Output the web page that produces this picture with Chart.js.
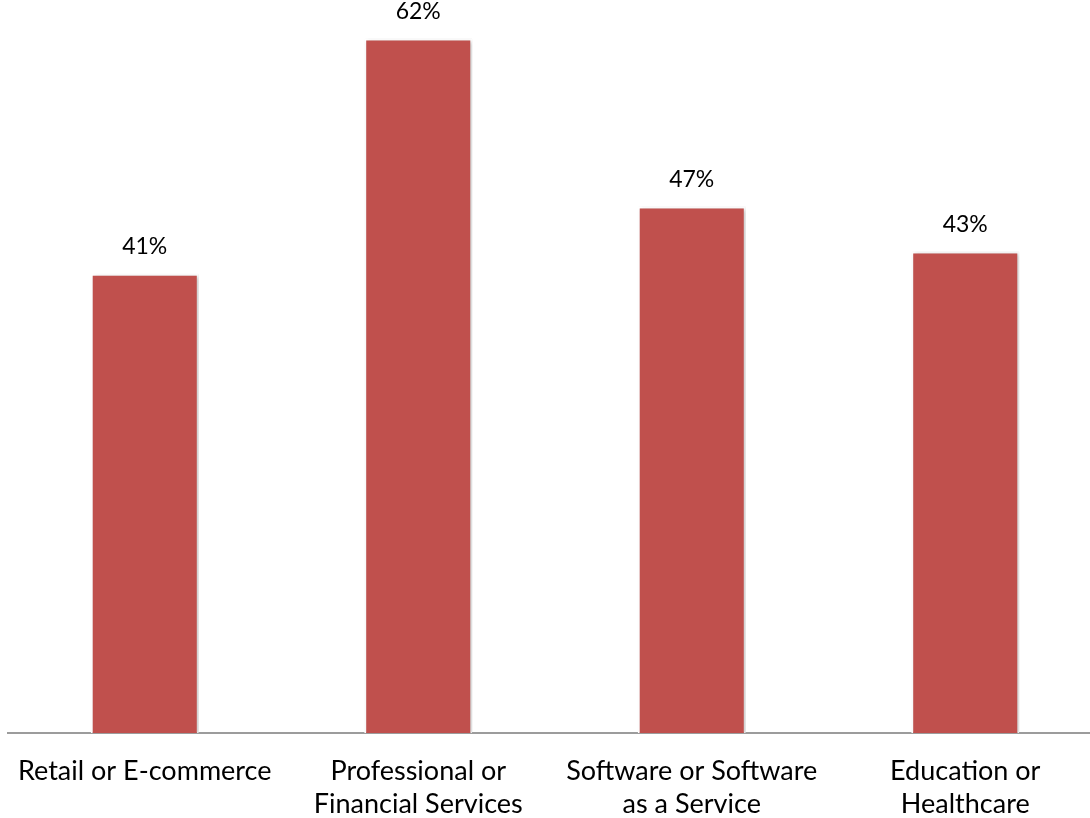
<!DOCTYPE html>
<html>
<head>
<meta charset="utf-8">
<script src="https://cdn.jsdelivr.net/npm/chart.js@4/dist/chart.umd.min.js"></script>
<style>
  html, body { margin: 0; padding: 0; background: #fff; overflow: hidden; }
  #wrap { width: 1102px; height: 818px; }
</style>
</head>
<body>
<div id="wrap"><canvas id="grafico" width="1102" height="818"></canvas></div>
<script>
const categorias = [
  ["Retail or E-commerce"],
  ["Professional or", "Financial Services"],
  ["Software or Software", "as a Service"],
  ["Education or", "Healthcare"]
];
const percentuais = [41, 62, 47, 43];

// sombra leve por baixo das barras
const sombraBarras = {
  id: "sombraBarras",
  beforeDatasetsDraw(chart) {
    const ctx = chart.ctx;
    ctx.save();
    ctx.shadowColor = "rgba(0,0,0,0.22)";
    ctx.shadowBlur = 4;
    ctx.shadowOffsetX = 2;
    ctx.shadowOffsetY = 1;
  },
  afterDatasetsDraw(chart) {
    chart.ctx.restore();
  }
};

// rótulos de valor acima de cada barra
const rotulosValor = {
  id: "rotulosValor",
  afterDraw(chart) {
    const ctx = chart.ctx;
    const meta = chart.getDatasetMeta(0);
    ctx.save();
    ctx.font = "23px Lato";
    ctx.fillStyle = "#000";
    ctx.textAlign = "center";
    ctx.textBaseline = "middle";
    meta.data.forEach((bar, i) => {
      ctx.fillText(percentuais[i] + "%", bar.x, bar.y - 27);
    });
    ctx.restore();
  }
};

new Chart(document.getElementById("grafico"), {
  type: "bar",
  data: {
    labels: categorias,
    datasets: [{
      data: percentuais,
      backgroundColor: "#C0504D",
      borderColor: "#ffffff",
      borderWidth: 2,
      barPercentage: 0.395,
      categoryPercentage: 1
    }]
  },
  options: {
    responsive: false,
    animation: false,
    layout: { padding: { left: 8, top: 5, right: 0, bottom: 0 } },
    plugins: {
      legend: { display: false },
      tooltip: { enabled: false }
    },
    scales: {
      x: {
        grid: { display: false, drawTicks: false },
        border: { display: true, color: "#9c9c9c", width: 2 },
        ticks: {
          color: "#000",
          font: { family: "Lato", size: 27, lineHeight: 1.22 },
          padding: 22,
          maxRotation: 0,
          autoSkip: false
        },
        afterFit(escala) {
          escala.height = 85;
          escala.paddingLeft = 0;
          escala.paddingRight = 0;
        }
      },
      y: {
        display: false,
        min: 0,
        max: 65
      }
    }
  },
  plugins: [sombraBarras, rotulosValor]
});
</script>
</body>
</html>
